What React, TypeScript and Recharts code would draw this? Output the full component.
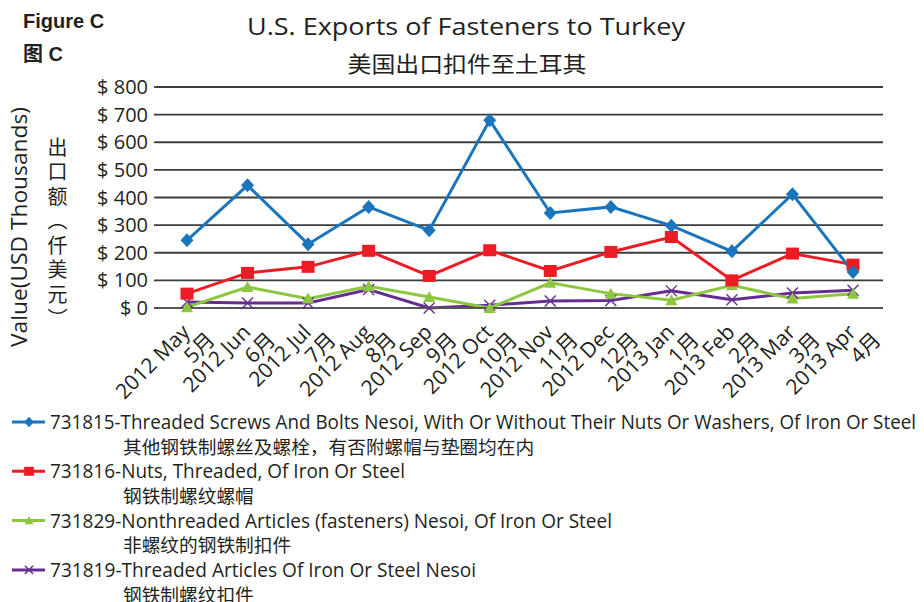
import React from "react";
import { LineChart, Line, XAxis, YAxis, CartesianGrid } from "recharts";

const months = [
  "2012 May", "2012 Jun", "2012 Jul", "2012 Aug", "2012 Sep", "2012 Oct",
  "2012 Nov", "2012 Dec", "2013 Jan", "2013 Feb", "2013 Mar", "2013 Apr",
];
const monthsCn = ["5月", "6月", "7月", "8月", "9月", "10月", "11月", "12月", "1月", "2月", "3月", "4月"];

// USD thousands
const screws = [245, 444, 231, 366, 281, 680, 344, 366, 298, 205, 412, 130];
const nuts = [52, 127, 149, 207, 116, 209, 134, 203, 257, 100, 197, 157];
const nonthreaded = [3, 76, 34, 79, 40, 0, 91, 52, 28, 82, 34, 52];
const articles = [22, 18, 18, 67, 0, 10, 25, 27, 62, 30, 54, 64];

const yTicks = [0, 100, 200, 300, 400, 500, 600, 700, 800];
const yLabelCn = ["出", "口", "额", "︵", "仟", "美", "元", "︶"];

const FONT = "'Open Sans', 'Noto Sans CJK SC', sans-serif";
const CJK = "'Noto Sans CJK SC', sans-serif";
const INK = "#231f20";

const series = [
  {
    key: "screws",
    name: "731815-Threaded Screws And Bolts Nesoi, With Or Without Their Nuts Or Washers, Of Iron Or Steel",
    cn: "其他钢铁制螺丝及螺栓，有否附螺帽与垫圈均在内",
    color: "#1b75bc",
    shape: "diamond",
    len: 866,
  },
  {
    key: "nuts",
    name: "731816-Nuts, Threaded, Of Iron Or Steel",
    cn: "钢铁制螺纹螺帽",
    color: "#ed1c24",
    shape: "square",
    len: 355,
  },
  {
    key: "nonthreaded",
    name: "731829-Nonthreaded Articles (fasteners) Nesoi, Of Iron Or Steel",
    cn: "非螺纹的钢铁制扣件",
    color: "#8dc63f",
    shape: "triangle",
    len: 562,
  },
  {
    key: "articles",
    name: "731819-Threaded Articles Of Iron Or Steel Nesoi",
    cn: "钢铁制螺纹扣件",
    color: "#662d91",
    shape: "cross",
    len: 426,
  },
];

const data = months.map((m, i) => ({
  month: m,
  screws: screws[i],
  nuts: nuts[i],
  nonthreaded: nonthreaded[i],
  articles: articles[i],
}));

function Marker({ shape, cx, cy, color, s = 1 }: any) {
  if (cx == null || cy == null) return null;
  if (shape === "diamond")
    return (
      <polygon
        points={`${cx},${cy - 7 * s} ${cx + 6.5 * s},${cy} ${cx},${cy + 7 * s} ${cx - 6.5 * s},${cy}`}
        fill={color}
      />
    );
  if (shape === "square")
    return <rect x={cx - 6.5 * s} y={cy - 6 * s} width={13 * s} height={12 * s} fill={color} />;
  if (shape === "triangle")
    return (
      <polygon
        points={`${cx},${cy - 6 * s} ${cx + 6 * s},${cy + 5 * s} ${cx - 6 * s},${cy + 5 * s}`}
        fill={color}
      />
    );
  return (
    <g stroke={color} strokeWidth={1.4}>
      <line x1={cx - 5.5 * s} y1={cy - 5.5 * s} x2={cx + 5.5 * s} y2={cy + 5.5 * s} />
      <line x1={cx - 5.5 * s} y1={cy + 5.5 * s} x2={cx + 5.5 * s} y2={cy - 5.5 * s} />
    </g>
  );
}

// two-line label, rotated -45deg, right-aligned at the tick
const MonthTick = (props: any) => {
  const { x, y, payload } = props;
  const i = payload.index ?? props.index;
  return (
    <g transform={`translate(${x},${y}) rotate(-45)`}>
      <text x={-15} y={21} textAnchor="end" fontSize={21} fontFamily={FONT} fill={INK}>
        {payload.value}
      </text>
      <text x={-3} y={44} textAnchor="end" fontSize={21} fontFamily={FONT} fill={INK}>
        {monthsCn[i]}
      </text>
    </g>
  );
};

const Overlay = () => (
  <svg
    width={924}
    height={602}
    style={{ position: "absolute", left: 0, top: 0, pointerEvents: "none" }}
  >
    <text x={23} y={28} fontSize={20} fontWeight="bold" fontFamily="'Liberation Sans', Arial, sans-serif" fill={INK}>
      Figure C
    </text>
    <text x={23} y={61} fontSize={20} fontWeight="bold" fontFamily="'Liberation Sans', 'Noto Sans CJK SC', sans-serif" fill={INK}>
      图 C
    </text>
    <text x={466} y={35} textAnchor="middle" fontSize={24} fontWeight={500} fontFamily={FONT} fill={INK} textLength={438} lengthAdjust="spacingAndGlyphs">
      U.S. Exports of Fasteners to Turkey
    </text>
    <text x={467} y={72} textAnchor="middle" fontSize={22} fontFamily={CJK} fill={INK} textLength={239} lengthAdjust="spacingAndGlyphs">
      美国出口扣件至土耳其
    </text>

    <text
      transform="translate(27,227) rotate(-90)"
      textAnchor="middle"
      fontSize={21}
      fontFamily={FONT}
      fill={INK}
      textLength={240}
      lengthAdjust="spacingAndGlyphs"
    >
      Value(USD Thousands)
    </text>
    {yLabelCn.map((c, i) => (
      <text
        key={i}
        x={57.5}
        y={146 + i * 24.5}
        textAnchor="middle"
        dominantBaseline="central"
        fontSize={20}
        fontFamily={CJK}
        fill={INK}
      >
        {c}
      </text>
    ))}

    {series.map((s, i) => {
      const yc = 422 + i * 49.3;
      return (
        <g key={s.key}>
          <line x1={12} x2={45} y1={yc} y2={yc} stroke={s.color} strokeWidth={3} />
          <Marker shape={s.shape} cx={29} cy={yc} color={s.color} s={0.75} />
          <text x={50} y={yc + 7} fontSize={20} fontFamily={FONT} fill={INK} textLength={s.len} lengthAdjust="spacingAndGlyphs">
            {s.name}
          </text>
          <text x={123} y={yc + 24.6 + 7} fontSize={18.7} fontFamily={CJK} fill={INK}>
            {s.cn}
          </text>
        </g>
      );
    })}
  </svg>
);

const drawOrder = [...series].reverse();

export default function App() {
  return (
    <div style={{ position: "absolute", left: 0, top: 0, width: 924, height: 602, background: "#fff" }}>
      <LineChart
        width={924}
        height={602}
        data={data}
        margin={{ top: 87, right: 41, left: 87, bottom: 254 }}
      >
        <CartesianGrid vertical={false} stroke="#3c3c3c" strokeWidth={1.8} />
        <XAxis
          dataKey="month"
          interval={0}
          height={40}
          padding={{ left: 30, right: 30 }}
          tickLine={false}
          tickSize={0}
          tickMargin={0}
          axisLine={{ stroke: "#555", strokeWidth: 2 }}
          tick={<MonthTick />}
        />
        <YAxis
          width={70}
          domain={[0, 800]}
          ticks={yTicks}
          interval={0}
          axisLine={false}
          tickLine={{ stroke: "#3c3c3c", strokeWidth: 1.8 }}
          tickSize={3}
          tickMargin={6}
          tickFormatter={(v: number) => `$ ${v}`}
          tick={{ fontSize: 20, fill: INK, fontFamily: FONT }}
        />
        {drawOrder.map((s) => (
          <Line
            key={s.key}
            dataKey={s.key}
            name={s.name}
            stroke={s.color}
            strokeWidth={3}
            type="linear"
            isAnimationActive={false}
            dot={(p: any) => <Marker key={`${s.key}-${p.index}`} shape={s.shape} cx={p.cx} cy={p.cy} color={s.color} />}
            activeDot={false}
          />
        ))}
      </LineChart>
      <Overlay />
    </div>
  );
}
